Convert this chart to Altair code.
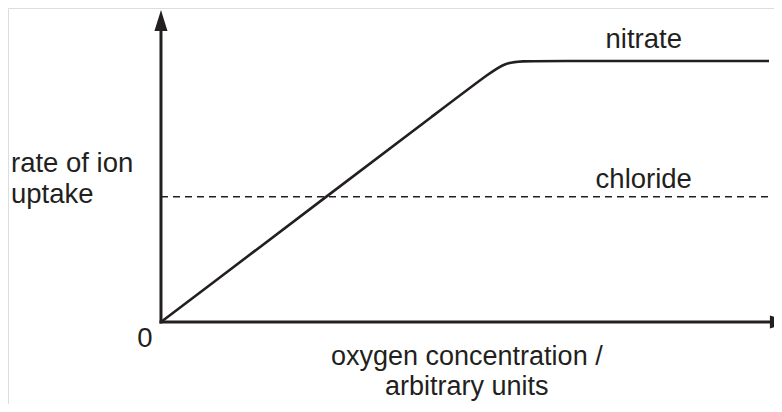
import altair as alt
import pandas as pd

# ---- data ----
oxygen = [0, 5.25, 5.66, 6.1, 10]          # oxygen concentration (arbitrary units)
nitrate = [0, 9.27, 10, 10, 10]            # rate of nitrate uptake
chloride_x = [0, 10]
chloride = [4.8, 4.8]                      # rate of chloride uptake (constant)

XDOM = [-2.516, 10.082]
YDOM = [-3.14, 12.03]
INK = "#231f20"
FONT = "Liberation Sans"
FS = 27.5

xs = alt.Scale(domain=XDOM, nice=False, zero=False)
ys = alt.Scale(domain=YDOM, nice=False, zero=False)


def X(f="x"):
    return alt.X(f, type="quantitative", scale=xs, axis=None)


def Y(f="y"):
    return alt.Y(f, type="quantitative", scale=ys, axis=None)


nit_df = pd.DataFrame({"x": oxygen, "y": nitrate})
chl_df = pd.DataFrame({"x": chloride_x, "y": chloride})

nit_line = alt.Chart(nit_df).mark_line(
    color=INK, strokeWidth=2.6, interpolate="basis"
).encode(x=X(), y=Y())

chl_line = alt.Chart(chl_df).mark_line(
    color=INK, strokeWidth=1.3, strokeDash=[7, 5]
).encode(x=X(), y=Y())

# axes drawn as rules with arrowheads
yaxis = alt.Chart(pd.DataFrame({"x": [0], "y": [0], "y2": [11.5]})).mark_rule(
    color=INK, strokeWidth=3, strokeCap="square"
).encode(x=X(), y=Y(), y2="y2")
xaxis = alt.Chart(pd.DataFrame({"x": [0], "x2": [10.3], "y": [0]})).mark_rule(
    color=INK, strokeWidth=3, strokeCap="square"
).encode(x=X(), x2="x2", y=Y())

yarrow = alt.Chart(pd.DataFrame({"x": [0], "y": [11.953]})).mark_point(
    shape="M0,0L0.62,2L-0.62,2Z", size=441, filled=True, color=INK, opacity=1
).encode(x=X(), y=Y())
xarrow = alt.Chart(pd.DataFrame({"x": [10.36], "y": [0]})).mark_point(
    shape="M0,0L-2,-0.62L-2,0.62Z", size=441, filled=True, color=INK, opacity=1
).encode(x=X(), y=Y())


def label(txt, x, y, align, fs=FS):
    return alt.Chart(pd.DataFrame({"x": [x], "y": [y]})).mark_text(
        font=FONT, fontSize=fs, color=INK, align=align, baseline="alphabetic"
    ).encode(x=X(), y=Y(), text=alt.value(txt))


labels = [
    label("nitrate", 7.94, 10.5, "center"),
    label("chloride", 7.94, 5.13, "center"),
    label("rate of ion", -2.467, 5.75, "left"),
    label("uptake", -2.467, 4.56, "left"),
    label("0", -0.263, -0.96, "center"),
    label("oxygen concentration /", 5.03, -1.647, "center", 27),
    label("arbitrary units", 5.03, -2.796, "center", 27),
]

chart = alt.layer(
    chl_line, nit_line, yaxis, xaxis, yarrow, xarrow, *labels
).properties(
    width=766, height=396, padding=0,
    autosize=alt.AutoSizeParams(type="none"),
).configure_view(stroke=None, strokeWidth=0).configure(background="white")

chart.save("out.html", embed_options={"renderer": "svg", "actions": False})
